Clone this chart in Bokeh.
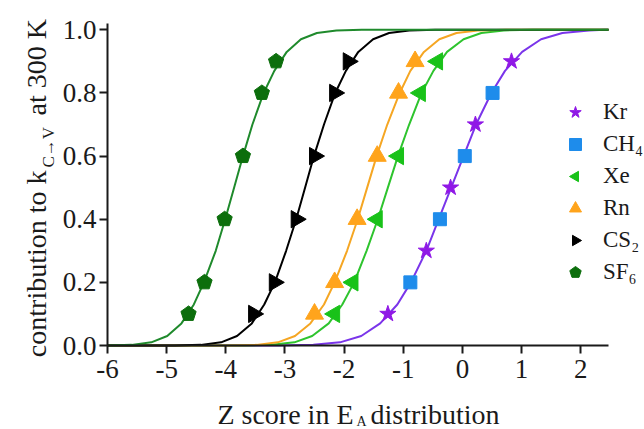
from math import pi
from bokeh.plotting import figure
from bokeh.models import Range1d, FixedTicker, Label, Legend, LegendItem, PrintfTickFormatter
from bokeh.embed import file_html
from bokeh.resources import INLINE

# ---------------- data ----------------
x_ticks = [-6, -5, -4, -3, -2, -1, 0, 1, 2]
x_tick_labels = ["-6", "-5", "-4", "-3", "-2", "-1", "0", "1", "2"]
y_ticks = [0.0, 0.2, 0.4, 0.6, 0.8, 1.0]
x_limits = (-6, 2.47)
y_limits = (0, 1.02)

# measured points
kr_x = [-1.26, -0.61, -0.20, 0.22, 0.83]
kr_y = [0.1, 0.3, 0.5, 0.7, 0.9]
ch4_x = [-0.88, -0.38, 0.04, 0.51]
ch4_y = [0.2, 0.4, 0.6, 0.8]
six_y = [0.1, 0.2, 0.4, 0.6, 0.8, 0.9]
xe_x = [-2.16, -1.85, -1.44, -1.08, -0.71, -0.42]
rn_x = [-2.50, -2.16, -1.78, -1.44, -1.08, -0.80]
cs2_x = [-3.53, -3.18, -2.81, -2.50, -2.16, -1.93]
sf6_x = [-4.63, -4.36, -4.02, -3.71, -3.39, -3.15]

# fitted curves
fit_y = [0.0, 0.0, 0.002, 0.01, 0.03, 0.07, 0.13, 0.2, 0.3, 0.4, 0.5,
         0.6, 0.7, 0.8, 0.87, 0.93, 0.97, 0.99, 0.998, 1.0, 1.0]
sf6_fit_x = [-6.0, -6.0, -5.59, -5.26, -4.99, -4.75, -4.54, -4.37, -4.17, -4.01, -3.86,
             -3.71, -3.55, -3.36, -3.18, -2.97, -2.73, -2.46, -2.13, -1.70, 2.47]
cs2_fit_x = [-6.0, -4.86, -4.42, -4.08, -3.81, -3.56, -3.35, -3.17, -2.98, -2.81, -2.66,
             -2.51, -2.34, -2.15, -1.97, -1.76, -1.51, -1.24, -0.90, -0.46, 2.47]
rn_fit_x = [-6.0, -3.95, -3.48, -3.12, -2.83, -2.57, -2.34, -2.16, -1.95, -1.77, -1.61,
            -1.45, -1.27, -1.06, -0.88, -0.65, -0.39, -0.10, 0.26, 0.73, 2.47]
xe_fit_x = [-6.0, -3.71, -3.22, -2.84, -2.54, -2.26, -2.03, -1.83, -1.62, -1.43, -1.26,
            -1.09, -0.90, -0.69, -0.49, -0.26, 0.02, 0.32, 0.70, 1.19, 2.47]
kr_fit_x = [-6.0, -3.11, -2.52, -2.07, -1.71, -1.39, -1.10, -0.87, -0.61, -0.40, -0.19,
            0.02, 0.23, 0.49, 0.72, 1.01, 1.33, 1.69, 2.14, 2.40, 2.47]

# ---------------- layout (pixels) ----------------
W, H = 644, 429
PX_X0, PX_X1 = 107, 608   # pixel columns of x_limits
PX_Y0, PX_Y1 = 345, 23    # pixel rows of y_limits
sx_per = (PX_X1 - PX_X0) / (x_limits[1] - x_limits[0])
sy_per = (PX_Y0 - PX_Y1) / (y_limits[1] - y_limits[0])
xr = Range1d(x_limits[0] - PX_X0 / sx_per, x_limits[1] + (W - PX_X1) / sx_per)
yr = Range1d(y_limits[0] - (H - PX_Y0) / sy_per, y_limits[1] + PX_Y1 / sy_per)

SERIF = "Liberation Serif"
INK = "#1a1a1a"
p = figure(width=W, height=H, x_range=xr, y_range=yr,
           output_backend="svg", toolbar_location=None,
           min_border_left=0, min_border_right=0, min_border_top=0, min_border_bottom=0)
p.xgrid.visible = False
p.ygrid.visible = False
p.outline_line_color = None

p.xaxis.fixed_location = y_limits[0]
p.xaxis.bounds = x_limits
p.yaxis.fixed_location = x_limits[0]
p.yaxis.bounds = y_limits
for ax in (p.xaxis[0], p.yaxis[0]):
    ax.axis_line_width = 2
    ax.axis_line_color = INK
    ax.major_tick_line_width = 2
    ax.major_tick_line_color = INK
    ax.major_tick_out = 8
    ax.major_tick_in = 0
    ax.minor_tick_out = 0
    ax.minor_tick_in = 0
    ax.major_label_text_font = SERIF
    ax.major_label_text_font_size = "27px"
    ax.major_label_text_color = INK
    ax.major_label_standoff = 3
p.xaxis.major_label_standoff = 6
p.xaxis.ticker = FixedTicker(ticks=x_ticks)
p.xaxis.major_label_overrides = dict(zip(x_ticks, x_tick_labels))
p.yaxis.ticker = FixedTicker(ticks=y_ticks)
p.yaxis.formatter = PrintfTickFormatter(format="%.1f")

# curves
curve_specs = [
    (kr_fit_x, "#7a35ea"),
    (xe_fit_x, "#2ec42e"),
    (rn_fit_x, "#f5a623"),
    (cs2_fit_x, "#000000"),
    (sf6_fit_x, "#1f8a2c"),
]
for cx, col in curve_specs:
    p.line(x=cx, y=fit_y, line_color=col, line_width=2)

# markers
r_kr = p.scatter(x=kr_x, y=kr_y, marker="star", size=17, fill_color="#9018e6", line_color="#9018e6")
r_ch4 = p.scatter(x=ch4_x, y=ch4_y, marker="square", size=13, fill_color="#1e8ceb", line_color="#1e8ceb")
r_xe = p.ngon(x=xe_x, y=six_y, radius=10, radius_units="screen", n=3, angle=pi / 2,
              fill_color="#19c219", line_color="#19c219")
r_rn = p.scatter(x=rn_x, y=six_y, marker="triangle", size=18, fill_color="#ffa41c", line_color="#ffa41c")
r_cs2 = p.ngon(x=cs2_x, y=six_y, radius=10, radius_units="screen", n=3, angle=-pi / 2,
               fill_color="#000000", line_color="#000000")
r_sf6 = p.ngon(x=sf6_x, y=six_y, radius=8, radius_units="screen", n=5, angle=0,
               fill_color="#0c6e0c", line_color="#0c6e0c")

legend = Legend(items=[
    LegendItem(label="Kr", renderers=[r_kr]),
    LegendItem(label="CH\u2084", renderers=[r_ch4]),
    LegendItem(label="Xe", renderers=[r_xe]),
    LegendItem(label="Rn", renderers=[r_rn]),
    LegendItem(label="CS\u2082", renderers=[r_cs2]),
    LegendItem(label="SF\u2086", renderers=[r_sf6]),
], location=(560, H - 287))
legend.border_line_color = None
legend.background_fill_alpha = 0
legend.label_text_font = SERIF
legend.label_text_font_size = "23px"
legend.label_text_color = INK
legend.glyph_width = 30
legend.glyph_height = 30
legend.label_height = 24
legend.label_standoff = 13
legend.spacing = 2
legend.padding = 0
legend.margin = 0
p.add_layout(legend)

# axis titles built from pieces (subscripts); positions in page pixels
def lab(text, px, py, size, angle=0, align="left"):
    p.add_layout(Label(x=px, y=H - py, x_units="screen", y_units="screen", text=text,
                       text_font=SERIF, text_font_size=size, text_color=INK,
                       angle=angle, text_align=align, text_baseline="alphabetic"))

# y title
lab("contribution to k", 36, 170, "28px", angle=pi / 2, align="right")
lab("C\u2192V", 48, 167, "17px", angle=pi / 2, align="left")
lab("at 300 K", 36, 115, "28px", angle=pi / 2, align="left")
# x title
lab("Z score in E", 353, 414, "28px", align="right")
lab("A", 356, 421, "14px", align="left")
lab("distribution", 370, 414, "28px", align="left")

open("out.html", "w").write(file_html(p, INLINE))
